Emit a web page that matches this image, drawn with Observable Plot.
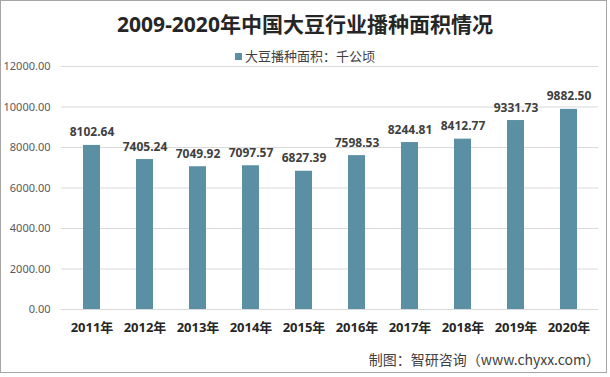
<!DOCTYPE html>
<html>
<head>
<meta charset="utf-8">
<script src="https://cdn.jsdelivr.net/npm/d3@7"></script>
<script src="https://cdn.jsdelivr.net/npm/@observablehq/plot@0.6"></script>
<style>
  html, body { margin: 0; padding: 0; background: #fff; }
  #wrap { position: relative; width: 610px; height: 377px; overflow: hidden; font-family: "Noto Sans", "Noto Sans CJK SC", sans-serif; }
  #frame { position: absolute; left: 0; top: 0; width: 605px; height: 371px; border: 1px solid #a6a6a6; pointer-events: none; }
  #title { position: absolute; left: 0; width: 610px; top: 8px; text-align: center; font-size: 21px; font-weight: bold; color: #262626; font-family: "Noto Sans", "Noto Sans CJK SC", sans-serif; }
  #legend { position: absolute; left: 0; width: 610px; top: 46px; text-align: center; font-size: 13px; color: #404040; font-family: "Noto Sans CJK SC", sans-serif; }
  #legend .sw { display: inline-block; width: 7px; height: 7px; background: #5b8fa3; margin-right: 3px; vertical-align: 1px; }
  #caption { position: absolute; right: 10px; top: 349px; font-size: 14px; color: #404040; font-family: "Noto Sans CJK SC", sans-serif; }
  svg { position: absolute; left: 0; top: 0; }
</style>
</head>
<body>
<div id="wrap">
  <div id="title"></div>
  <div id="legend"></div>
  <div id="caption"></div>
  <div id="chart"></div>
  <div id="frame"></div>
</div>
<script>
const titleText = "2009-2020年中国大豆行业播种面积情况";
const legendLabel = "大豆播种面积：千公顷";
const captionText = "制图：智研咨询（www.chyxx.com）";
const years = ["2011年","2012年","2013年","2014年","2015年","2016年","2017年","2018年","2019年","2020年"];
const values = [8102.64, 7405.24, 7049.92, 7097.57, 6827.39, 7598.53, 8244.81, 8412.77, 9331.73, 9882.50];
const yTicks = [0, 2000, 4000, 6000, 8000, 10000, 12000];

document.getElementById("title").textContent = titleText;
document.getElementById("legend").innerHTML = '<span class="sw"></span>' + legendLabel;
document.getElementById("caption").textContent = captionText;

const data = years.map((y, i) => ({year: y, value: values[i]}));
const fmt = d3.format(".2f");

const chart = Plot.plot({
  width: 610,
  height: 377,
  marginTop: 66,
  marginBottom: 68,
  marginLeft: 61,
  marginRight: 12,
  style: {fontFamily: "'Noto Sans', 'Noto Sans CJK SC', sans-serif", background: "transparent"},
  x: {domain: years, paddingInner: 0.68, paddingOuter: 0.34, label: null},
  y: {domain: [0, 12000], label: null},
  marks: [
    Plot.ruleY(yTicks, {stroke: "#d9d9d9", strokeWidth: 1}),
    Plot.barY(data, {x: "year", y: "value", fill: "#5b8fa3"}),
    Plot.text(data, {x: "year", y: "value", text: d => fmt(d.value), dy: -9, lineAnchor: "bottom", fontWeight: "bold", fontSize: 12, fill: "#404040"}),
    Plot.axisY({ticks: yTicks, tickFormat: fmt, tickSize: 0, tickPadding: 11, fontSize: 11, color: "#595959", label: null}),
    Plot.axisX({tickSize: 0, tickPadding: 13, fontSize: 13, fontWeight: "bold", color: "#262626", label: null})
  ]
});
document.getElementById("chart").appendChild(chart);
</script>
</body>
</html>
